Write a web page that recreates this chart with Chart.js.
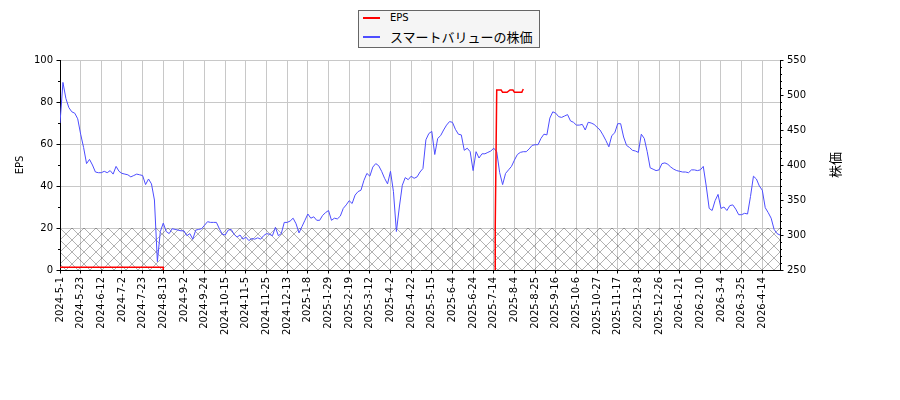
<!DOCTYPE html>
<html lang="ja">
<head>
<meta charset="utf-8">
<title>EPS と株価</title>
<script src="https://cdn.jsdelivr.net/npm/chart.js@4.4.1/dist/chart.umd.min.js"></script>
<style>
  html, body { margin: 0; padding: 0; background: #fff; }
  #wrap { position: relative; width: 900px; height: 400px; }
  #legend {
    position: absolute; left: 358px; top: 10px; width: 182px; height: 38px;
    box-sizing: border-box; border: 1px solid #666; background: #f5f5f5;
  }
  .legend-line { position: absolute; left: 4px; width: 17px; height: 0; border-top: 2px solid; }
  .legend-text { position: absolute; left: 31px; white-space: nowrap; color: #000; }
</style>
</head>
<body>
<div id="wrap">
  <canvas id="chart" width="900" height="400"></canvas>
  <div id="legend"></div>
</div>
<script>
// x axis = trading day number counted from 2024-5-1, labels every 14 trading days
const tickStep = 14;
const lastDay = 488;
const tickLabels = [
    '2024-5-1', '2024-5-23', '2024-6-12', '2024-7-2', '2024-7-23', '2024-8-13',
    '2024-9-2', '2024-9-24', '2024-10-15', '2024-11-5', '2024-11-25', '2024-12-13',
    '2025-1-8', '2025-1-29', '2025-2-19', '2025-3-12', '2025-4-2', '2025-4-22',
    '2025-5-15', '2025-6-4', '2025-6-24', '2025-7-14', '2025-8-4', '2025-8-25',
    '2025-9-16', '2025-10-6', '2025-10-27', '2025-11-17', '2025-12-8', '2025-12-26',
    '2026-1-21', '2026-2-10', '2026-3-4', '2026-3-25', '2026-4-14'
];
const tickDays = tickLabels.map((_, k) => k * tickStep);

// share price, one value every 2 trading days
const priceStep = 2;
const priceValues = [
    460, 518, 495, 482, 476, 474, 466, 444, 425, 402,
    408, 400, 390, 389, 389, 391, 389, 392, 387, 398,
    391, 388, 387, 386, 383, 385, 387, 386, 385, 372,
    380, 373, 350, 262, 305, 317, 305, 302, 309, 308,
    307, 306, 306, 299, 302, 294, 307, 308, 309, 314,
    319, 318, 318, 318, 309, 301, 300, 307, 308, 301,
    297, 300, 294, 297, 292, 295, 294, 296, 294, 299,
    302, 301, 299, 311, 299, 302, 318, 318, 320, 324,
    316, 303, 312, 321, 330, 324, 326, 321, 321, 328,
    332, 335, 321, 324, 323, 327, 338, 343, 349, 345,
    357, 362, 364, 378, 388, 384, 397, 402, 399, 391,
    381, 373, 391, 362, 305, 340, 371, 382, 379, 384,
    381, 383, 390, 395, 436, 445, 448, 415, 438, 442,
    450, 457, 462, 461, 451, 444, 443, 421, 424, 419,
    392, 419, 410, 416, 416, 418, 420, 424, 419, 389,
    372, 388, 393, 398, 407, 415, 418, 419, 419, 423,
    428, 429, 429, 438, 444, 443, 467, 476, 474, 469,
    468, 470, 472, 463, 461, 457, 457, 458, 450, 461,
    460, 458, 454, 450, 443, 435, 426, 442, 446, 459,
    459, 440, 428, 425, 421, 420, 418, 444, 438, 419,
    396, 394, 392, 393, 402, 403, 401, 397, 394, 392,
    391, 390, 390, 389, 393, 393, 392, 393, 398, 370,
    338, 335, 349, 358, 338, 340, 335, 342, 343, 337,
    329, 329, 331, 330, 355, 384, 380, 370, 364, 339,
    332, 324, 308, 302, 300
];

// EPS, only where it is drawn (null = gap)
const epsDays   = [0,   70,  70, 71,   295, 295, 296,  299,  300,  303,  305,  307,  308,  313,  314];
const epsValues = [1.3, 1.3, 0,  null, 0,   21,  85.7, 85.7, 84.6, 84.6, 85.7, 85.7, 84.6, 84.6, 86.2];

// hatched band below this EPS level
const hatchTop = 20;

const epsLabel = 'EPS';
const priceLabel = 'スマートバリューの株価';
const leftAxisTitle = 'EPS';
const rightAxisTitle = '株価';

Chart.defaults.font.family = '"DejaVu Sans", sans-serif';
Chart.defaults.font.size = 10;
Chart.defaults.color = '#000';

// crosshatch pattern for the low band
function makeHatch() {
    const size = 12;
    const c = document.createElement('canvas');
    c.width = size;
    c.height = size;
    const g = c.getContext('2d');
    g.strokeStyle = 'rgba(0,0,0,0.38)';
    g.lineWidth = 0.8;
    g.beginPath();
    g.moveTo(-1, -1); g.lineTo(size + 1, size + 1);
    g.moveTo(-1, size + 1); g.lineTo(size + 1, -1);
    g.stroke();
    return g.createPattern(c, 'repeat');
}

// minor ticks and the right axis title (reads bottom to top)
const axisExtras = {
    id: 'axisExtras',
    afterDraw(chart) {
        const ctx = chart.ctx;
        const area = chart.chartArea;
        const yl = chart.scales.y;
        const yr = chart.scales.y2;
        ctx.save();
        ctx.strokeStyle = '#000';
        ctx.lineWidth = 1;
        ctx.beginPath();
        for (let v = 10; v < 100; v += 20) {
            const py = Math.round(yl.getPixelForValue(v)) + 0.5;
            ctx.moveTo(area.left - 2, py);
            ctx.lineTo(area.left, py);
        }
        for (let v = 260; v < 550; v += 10) {
            if (v % 50 === 0) continue;
            const py = Math.round(yr.getPixelForValue(v)) + 0.5;
            ctx.moveTo(area.right, py);
            ctx.lineTo(area.right + 2, py);
        }
        ctx.stroke();

        ctx.translate(area.right + 55, (area.top + area.bottom) / 2);
        ctx.rotate(-Math.PI / 2);
        ctx.font = '13px "Noto Sans CJK JP"';
        ctx.fillStyle = '#000';
        ctx.textAlign = 'center';
        ctx.textBaseline = 'middle';
        ctx.fillText(rightAxisTitle, 0, 0);
        ctx.restore();
    }
};

const ctx = document.getElementById('chart').getContext('2d');

const chart = new Chart(ctx, {
    type: 'line',
    data: {
        datasets: [
            {
                label: epsLabel,
                data: epsDays.map((d, k) => ({ x: d, y: epsValues[k] })),
                yAxisID: 'y',
                borderColor: '#ff0000',
                borderWidth: 1.5,
                pointRadius: 0,
                spanGaps: false,
                legendFont: '10px "DejaVu Sans"',
                legendLineHeight: 14
            },
            {
                label: priceLabel,
                data: priceValues.map((v, k) => ({ x: k * priceStep, y: v })),
                yAxisID: 'y2',
                borderColor: '#4d4dff',
                borderWidth: 1,
                pointRadius: 0,
                legendFont: '13px "Noto Sans CJK JP"',
                legendLineHeight: 16
            },
            {
                label: 'hatch',
                data: [{ x: 0, y: hatchTop }, { x: lastDay, y: hatchTop }],
                yAxisID: 'y',
                borderWidth: 0,
                pointRadius: 0,
                fill: 'origin',
                backgroundColor: makeHatch(),
                noLegend: true
            }
        ]
    },
    options: {
        responsive: false,
        animation: false,
        events: [],
        layout: { padding: { top: 60, left: 0, right: 0, bottom: 0 } },
        plugins: {
            legend: { display: false },
            tooltip: { enabled: false }
        },
        scales: {
            x: {
                type: 'linear',
                min: 0,
                max: lastDay,
                afterBuildTicks: scale => {
                    scale.ticks = tickDays.map(v => ({ value: v }));
                },
                afterFit: scale => { scale.height = 130; },
                ticks: {
                    autoSkip: false,
                    minRotation: 90,
                    maxRotation: 90,
                    padding: 3.5,
                    callback: (value, index) => tickLabels[index]
                },
                grid: { color: '#c8c8c8', tickColor: '#000', tickLength: 3.5 },
                border: { color: '#000', width: 1 }
            },
            y: {
                position: 'left',
                min: 0,
                max: 100,
                afterFit: scale => { scale.width = 60; },
                ticks: { stepSize: 20, padding: 3.5 },
                grid: { color: '#c8c8c8', tickColor: '#000', tickLength: 3.5 },
                border: { color: '#000', width: 1 },
                title: {
                    display: true,
                    text: leftAxisTitle,
                    font: { size: 10 },
                    padding: { top: 14, bottom: 0 }
                }
            },
            y2: {
                position: 'right',
                min: 250,
                max: 550,
                afterFit: scale => { scale.width = 120; },
                ticks: { stepSize: 50, padding: 3.5 },
                grid: { drawOnChartArea: false, tickColor: '#000', tickLength: 3.5 },
                border: { color: '#000', width: 1 }
            }
        }
    },
    plugins: [axisExtras]
});

// legend box built from the datasets
function buildLegend() {
    const box = document.getElementById('legend');
    box.innerHTML = '';
    const centers = [7, 26];
    let row = 0;
    chart.data.datasets.forEach(ds => {
        if (ds.noLegend) return;
        const cy = centers[row++];
        const line = document.createElement('div');
        line.className = 'legend-line';
        line.style.top = (cy - 1) + 'px';
        line.style.borderTopColor = ds.borderColor;
        const text = document.createElement('div');
        text.className = 'legend-text';
        text.style.font = ds.legendFont;
        text.style.lineHeight = ds.legendLineHeight + 'px';
        text.style.top = (cy - ds.legendLineHeight / 2) + 'px';
        text.textContent = ds.label;
        box.appendChild(line);
        box.appendChild(text);
    });
}
buildLegend();
</script>
</body>
</html>
